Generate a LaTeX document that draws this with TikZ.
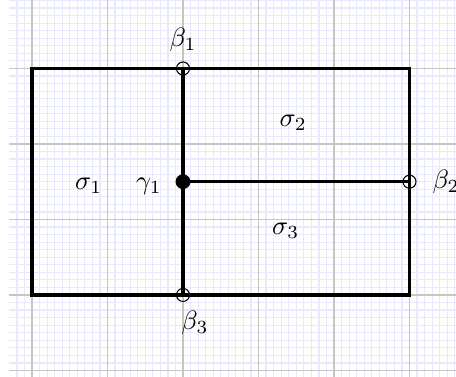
\documentclass[tikz,border=0pt]{standalone}
\usepackage{amsmath,amssymb}
\usetikzlibrary{positioning}

\tikzset{
  hollow/.style={circle,draw,thin,inner sep=0pt,minimum size=4.9pt},
  junction/.style={circle,fill,inner sep=0pt,minimum size=5.6pt},
  edge/.style={line width=1.3pt}
}

\begin{document}
\begin{tikzpicture}[scale=1.0]
  \useasboundingbox (-0.424,-1.086) rectangle (5.616,3.907);
  % background grid: fine blue lines, coarse gray lines
  \draw[blue!9,line width=0.45pt] (-0.3,-1.1) grid[step=0.1] (5.7,4);
  \draw[gray!45,line width=0.5pt] (-0.3,-1.1) grid[step=1] (5.7,4);
  % outer boundary
  \draw[edge] (0,0) rectangle (5,3);
  % interior edges
  \coordinate (g) at (2,1.5);
  \node[hollow] (b1) at (2,3) {};
  \node[hollow] (b2) at (5,1.5) {};
  \node[hollow] (b3) at (2,0) {};
  \draw[edge] (b1.center) -- (b3.center);
  \draw[edge] (g) -- (b2.center);
  \node[junction] (g1) at (g) {};
  % labels
  \node[above=0pt of b1] (lb1) {$\beta_1$};
  \node[right=2.5pt of b2] (lb2) {$\beta_2$};
  \node[below=0pt of b3,xshift=4.5pt] (lb3) {$\beta_3$};
  \node (lg1) at (1.55,1.44) {$\gamma_1$};
  \node (s1) at (0.75,1.44) {$\sigma_1$};
  \node (s2) at (3.46,2.28) {$\sigma_2$};
  \node (s3) at (3.36,0.85) {$\sigma_3$};
\end{tikzpicture}
\end{document}
